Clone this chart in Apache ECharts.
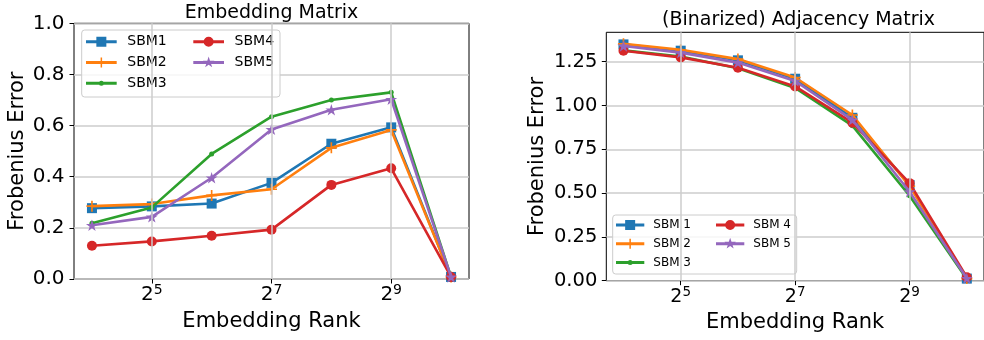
<!DOCTYPE html>
<html>
<head>
<meta charset="utf-8">
<script src="https://cdn.jsdelivr.net/npm/echarts@6/dist/echarts.min.js"></script>
<style>
  html, body { margin: 0; padding: 0; background: #fff; }
  #chart { width: 984px; height: 340px; }
</style>
</head>
<body>
<div id="chart"></div>
<script>
// ---------------- data ----------------
const ranks = [16, 32, 64, 128, 256, 512, 1024];
const xTickExponents = [5, 7, 9];
const embYTicks = [0, 0.2, 0.4, 0.6, 0.8, 1.0];
const adjYTicks = [0, 0.25, 0.5, 0.75, 1.0, 1.25];

const embNames = ['SBM1', 'SBM2', 'SBM3', 'SBM4', 'SBM5'];
const adjNames = ['SBM 1', 'SBM 2', 'SBM 3', 'SBM 4', 'SBM 5'];

const embSBM1 = [0.277, 0.284, 0.295, 0.376, 0.529, 0.593, 0.008];
const embSBM2 = [0.285, 0.293, 0.327, 0.351, 0.513, 0.583, 0.008];
const embSBM3 = [0.218, 0.280, 0.489, 0.635, 0.700, 0.730, 0.008];
const embSBM4 = [0.130, 0.147, 0.169, 0.193, 0.368, 0.433, 0.008];
const embSBM5 = [0.210, 0.243, 0.396, 0.585, 0.662, 0.703, 0.008];

const adjSBM1 = [1.349, 1.313, 1.258, 1.153, 0.930, 0.546, 0.012];
const adjSBM2 = [1.352, 1.318, 1.265, 1.160, 0.946, 0.540, 0.012];
const adjSBM3 = [1.315, 1.280, 1.213, 1.100, 0.885, 0.485, 0.010];
const adjSBM4 = [1.313, 1.275, 1.216, 1.109, 0.902, 0.557, 0.020];
const adjSBM5 = [1.340, 1.302, 1.245, 1.140, 0.918, 0.508, 0.014];

// ---------------- styles ----------------
const colors = ['#1f77b4', '#ff7f0e', '#2ca02c', '#d62728', '#9467bd'];
const FONT = 'DejaVu Sans';
const GRID_COLOR = '#cdcdcd';
const GRID_WIDTH = 1.5;

function starPoints(cx, cy, R, r) {
  const pts = [];
  for (let i = 0; i < 10; i++) {
    const a = (-90 + i * 36) * Math.PI / 180;
    const rad = i % 2 === 0 ? R : r;
    pts.push([cx + rad * Math.cos(a), cy + rad * Math.sin(a)]);
  }
  return 'M' + pts.map(p => p[0].toFixed(3) + ',' + p[1].toFixed(3)).join('L') + 'Z';
}

const kinds = ['square', 'plus', 'dot', 'circle', 'star'];
const symbols = {
  square: 'rect',
  plus: 'path://M-5,-0.75H5V0.75H-5ZM-0.75,-5H0.75V5H-0.75Z',
  dot: 'circle',
  circle: 'circle',
  star: 'path://' + starPoints(0, 0, 10, 3.82)
};
const symbolSizes = { square: 10, plus: 11, dot: 5, circle: 10, star: 12 };

function markerPath(kind, cx, cy) {
  switch (kind) {
    case 'square': return `M${cx - 5},${cy - 5}H${cx + 5}V${cy + 5}H${cx - 5}Z`;
    case 'plus': return `M${cx - 5},${cy - 0.75}H${cx + 5}V${cy + 0.75}H${cx - 5}ZM${cx - 0.75},${cy - 5}H${cx + 0.75}V${cy + 5}H${cx - 0.75}Z`;
    case 'dot': { const r = 2.5; return `M${cx + r},${cy}A${r},${r} 0 1 1 ${cx - r},${cy}A${r},${r} 0 1 1 ${cx + r},${cy}Z`; }
    case 'circle': { const r = 5; return `M${cx + r},${cy}A${r},${r} 0 1 1 ${cx - r},${cy}A${r},${r} 0 1 1 ${cx + r},${cy}Z`; }
    case 'star': return starPoints(cx, cy, 6, 2.3);
  }
}
function legendIcon(kind, W, lineLen, H) {
  const cy = H / 2, cx = lineLen / 2;
  let p = `M0,0L0.01,0L0,0.01Z M${W},${H}L${W - 0.01},${H}L${W},${H - 0.01}Z `;
  p += `M0,${cy - 1.5}H${lineLen}V${cy + 1.5}H0Z `;
  p += markerPath(kind, cx, cy);
  return 'path://' + p;
}

function supLabel(v) { return '{b|2}{s|' + Math.round(v) + '}'; }

function makeSeries(name, values, idx, axisIdx) {
  const kind = kinds[idx];
  return {
    type: 'line',
    name: name,
    xAxisIndex: axisIdx,
    yAxisIndex: axisIdx,
    data: ranks.map((r, i) => [Math.log2(r), values[i]]),
    symbol: symbols[kind],
    symbolSize: symbolSizes[kind],
    symbolKeepAspect: true,
    showSymbol: true,
    lineStyle: { color: colors[idx], width: 2.6 },
    itemStyle: { color: colors[idx], borderWidth: 0 },
    emphasis: { disabled: true },
    animation: false,
    z: 2 + idx * 0.01
  };
}

// vertical grid lines at the x tick positions (drawn through the axis scale)
function gridLineSeries(axisIdx) {
  return {
    type: 'line', name: '__grid' + axisIdx, xAxisIndex: axisIdx, yAxisIndex: axisIdx,
    data: [], z: 1, silent: true, animation: false,
    markLine: {
      silent: true, symbol: ['none', 'none'], animation: false,
      label: { show: false },
      emphasis: { disabled: true },
      lineStyle: { color: GRID_COLOR, width: GRID_WIDTH, type: 'solid' },
      data: xTickExponents.map(v => ({ xAxis: v }))
    }
  };
}

const embData = [embSBM1, embSBM2, embSBM3, embSBM4, embSBM5];
const adjData = [adjSBM1, adjSBM2, adjSBM3, adjSBM4, adjSBM5];

const series = [gridLineSeries(0), gridLineSeries(1)];
embData.forEach((d, i) => series.push(makeSeries(embNames[i], d, i, 0)));
adjData.forEach((d, i) => series.push(makeSeries(adjNames[i], d, i, 1)));

function xAxisCfg(gridIndex, baseSize, supSize, margin, nameGap) {
  return {
    type: 'value', gridIndex: gridIndex, min: 3.7, max: 10.3,
    axisLine: { show: false },
    axisTick: { show: true, customValues: xTickExponents, length: 4.5, lineStyle: { color: '#000', width: 1 } },
    axisLabel: {
      customValues: xTickExponents, formatter: supLabel, margin: margin,
      rich: {
        b: { fontFamily: FONT, fontSize: baseSize, color: '#000', lineHeight: baseSize + 4 },
        s: { fontFamily: FONT, fontSize: supSize, color: '#000', lineHeight: supSize, verticalAlign: 'top' }
      }
    },
    splitLine: { show: false },
    name: 'Embedding Rank', nameLocation: 'middle', nameGap: nameGap,
    nameTextStyle: { fontFamily: FONT, fontSize: 21, color: '#000' }
  };
}
function yAxisCfg(gridIndex, max, interval, ticks, digits, margin, nameGap, fontSize) {
  return {
    type: 'value', gridIndex: gridIndex, min: 0, max: max, interval: interval,
    axisLine: { show: false },
    axisTick: { show: true, customValues: ticks, length: 4.5, lineStyle: { color: '#000', width: 1 } },
    axisLabel: {
      customValues: ticks, formatter: v => v.toFixed(digits), margin: margin,
      fontFamily: FONT, fontSize: fontSize, color: '#000'
    },
    splitLine: { show: true, lineStyle: { color: GRID_COLOR, width: GRID_WIDTH } },
    name: 'Frobenius Error', nameLocation: 'middle', nameGap: nameGap,
    nameTextStyle: { fontFamily: FONT, fontSize: 21, color: '#000' }
  };
}

function legendCfg(names, idxs, left, top, W, lineLen, H, gap, fontSize) {
  return {
    orient: 'vertical', left: left, top: top, padding: 0,
    itemWidth: W, itemHeight: H, itemGap: gap,
    selectedMode: false,
    itemStyle: { borderWidth: 0 },
    textStyle: { fontFamily: FONT, fontSize: fontSize, color: '#000', lineHeight: H },
    data: idxs.map(i => ({ name: names[i], icon: legendIcon(kinds[i], W, lineLen, H) }))
  };
}

const option = {
  backgroundColor: '#fff',
  animation: false,
  title: [
    { text: 'Embedding Matrix', left: 271.5, textAlign: 'center', top: 3.5, padding: 0,
      textStyle: { fontFamily: FONT, fontSize: 19, fontWeight: 'normal', color: '#000' } },
    { text: '(Binarized) Adjacency Matrix', left: 798.5, textAlign: 'center', top: 11, padding: 0,
      textStyle: { fontFamily: FONT, fontSize: 19, fontWeight: 'normal', color: '#000' } }
  ],
  grid: [
    { left: 74, top: 23.3, width: 395, height: 255.7, show: true, borderColor: '#000', borderWidth: 1, backgroundColor: 'transparent' },
    { left: 606.3, top: 32.3, width: 385, height: 248.4, show: true, borderColor: '#000', borderWidth: 1, backgroundColor: 'transparent' }
  ],
  xAxis: [
    xAxisCfg(0, 20, 14, 4, 32),
    xAxisCfg(1, 19, 13.5, 5, 31)
  ],
  yAxis: [
    yAxisCfg(0, 1.0, 0.2, embYTicks, 1, 9.5, 46, 20),
    yAxisCfg(1, 1.418, 0.25, adjYTicks, 2, 9, 58, 19.5)
  ],
  legend: [
    legendCfg(embNames, [0, 1, 2], 86, 34.7, 36.3, 30.7, 14, 6.8, 14),
    legendCfg(embNames, [3, 4], 193.3, 34.7, 36.3, 30.7, 14, 6.8, 14),
    legendCfg(adjNames, [0, 1, 2], 616, 219, 32.3, 28.3, 12, 6.7, 12),
    legendCfg(adjNames, [3, 4], 716, 219, 32.3, 28.3, 12, 6.7, 12)
  ],
  graphic: [
    { type: 'rect', z: 3, shape: { x: 81.7, y: 30, width: 198.3, height: 67, r: 3 },
      style: { fill: 'rgba(255,255,255,0.8)', stroke: '#cccccc', lineWidth: 1 } },
    { type: 'rect', z: 3, shape: { x: 612.7, y: 215, width: 184, height: 59, r: 3 },
      style: { fill: 'rgba(255,255,255,0.8)', stroke: '#cccccc', lineWidth: 1 } }
  ],
  series: series
};

const chart = echarts.init(document.getElementById('chart'), null, { renderer: 'canvas' });
chart.setOption(option);
</script>
</body>
</html>
